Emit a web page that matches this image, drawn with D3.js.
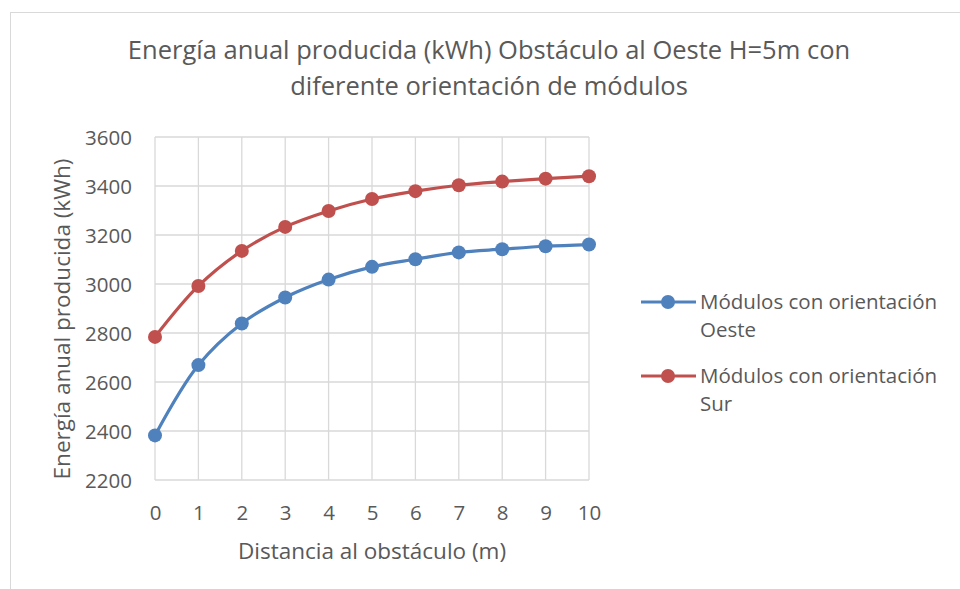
<!DOCTYPE html>
<html>
<head>
<meta charset="utf-8">
<script src="https://cdn.jsdelivr.net/npm/d3@7"></script>
<style>
  body { margin: 0; background: #fff; }
  text { font-family: "Open Sans", "Noto Sans", sans-serif; fill: #595959; }
</style>
</head>
<body>
<div id="chart"></div>
<script>
// Distance to obstacle (m)
const distances = [0, 1, 2, 3, 4, 5, 6, 7, 8, 9, 10];
// Annual energy (kWh)
const oesteValues = [2382, 2669, 2839, 2945, 3018, 3070, 3101, 3129, 3142, 3154, 3161];
const surValues = [2784, 2992, 3135, 3233, 3298, 3347, 3379, 3403, 3418, 3430, 3440];
const yTicks = [2200, 2400, 2600, 2800, 3000, 3200, 3400, 3600];
const seriesNames = ['Módulos con orientación Oeste', 'Módulos con orientación Sur'];
const seriesColors = ['#4f81bd', '#c0504d'];
const titleLines = ['Energía anual producida (kWh) Obstáculo al Oeste H=5m con', 'diferente orientación de módulos'];

const width = 960;
const height = 589;
const margin = { left: 155, right: 371, top: 137, bottom: 109 };
const fontFamily = '"Open Sans", "Noto Sans", sans-serif';

const svg = d3.select('#chart').append('svg')
  .attr('width', width)
  .attr('height', height);

// chart border
svg.append('rect')
  .attr('x', 10.5).attr('y', 12.5)
  .attr('width', 960).attr('height', 600)
  .attr('fill', 'none')
  .attr('stroke', '#d9d9d9');

const xScale = d3.scaleLinear()
  .domain([0, 10])
  .range([margin.left, width - margin.right]);
const yScale = d3.scaleLinear()
  .domain([2200, 3600])
  .range([height - margin.bottom, margin.top]);

const g = svg.append('g');

// gridlines
g.selectAll('.hgrid').data(yTicks).enter().append('line')
  .attr('x1', xScale(0)).attr('x2', xScale(10))
  .attr('y1', d => yScale(d)).attr('y2', d => yScale(d))
  .attr('stroke', '#d9d9d9').attr('stroke-width', 1.3);
g.selectAll('.vgrid').data(distances).enter().append('line')
  .attr('x1', d => xScale(d)).attr('x2', d => xScale(d))
  .attr('y1', yScale(2200)).attr('y2', yScale(3600))
  .attr('stroke', '#d9d9d9').attr('stroke-width', 1.3);

// axes
const xAxis = svg.append('g')
  .attr('transform', `translate(0, ${yScale(2200)})`)
  .call(d3.axisBottom(xScale).tickValues(distances).tickSize(0).tickPadding(30).tickFormat(d3.format('d')));
const yAxis = svg.append('g')
  .attr('transform', `translate(${xScale(0)}, 0)`)
  .call(d3.axisLeft(yScale).tickValues(yTicks).tickSize(0).tickPadding(23).tickFormat(d => d));
[xAxis, yAxis].forEach(a => {
  a.select('.domain').remove();
  a.selectAll('text').style('font-size', '20.5px').attr('fill', '#595959')
    .style('font-family', fontFamily);
});
xAxis.selectAll('text').attr('dy', '0.5em');
yAxis.selectAll('text').attr('dy', '0.36em');

// lines
const line = d3.line()
  .x((d, i) => xScale(distances[i]))
  .y(d => yScale(d))
  .curve(d3.curveCatmullRom.alpha(0.5));

[oesteValues, surValues].forEach((values, s) => {
  g.append('path')
    .datum(values)
    .attr('fill', 'none')
    .attr('stroke', seriesColors[s])
    .attr('stroke-width', 3.2)
    .attr('d', line);
  g.selectAll('.pt' + s).data(values).enter().append('circle')
    .attr('cx', (d, i) => xScale(distances[i]))
    .attr('cy', d => yScale(d))
    .attr('r', 7)
    .attr('fill', seriesColors[s]);
});

// title
svg.append('text')
  .attr('x', 489).attr('y', 59)
  .attr('text-anchor', 'middle')
  .style('font-size', '25.5px')
  .selectAll('tspan').data(titleLines).enter().append('tspan')
  .attr('x', 489)
  .attr('dy', (d, i) => i === 0 ? 0 : 36)
  .text(d => d);

// axis titles
svg.append('text')
  .attr('x', 372).attr('y', 559)
  .attr('text-anchor', 'middle')
  .style('font-size', '22.5px')
  .text('Distancia al obstáculo (m)');
svg.append('text')
  .attr('transform', 'translate(70, 319) rotate(-90)')
  .attr('text-anchor', 'middle')
  .style('font-size', '22.5px')
  .text('Energía anual producida (kWh)');

// legend
const legendY = [302, 376];
seriesNames.forEach((name, s) => {
  const lg = svg.append('g').attr('transform', `translate(641, ${legendY[s]})`);
  lg.append('line').attr('x1', 0).attr('x2', 55).attr('y1', 0).attr('y2', 0)
    .attr('stroke', seriesColors[s]).attr('stroke-width', 3.2);
  lg.append('circle').attr('cx', 27).attr('cy', 0).attr('r', 7).attr('fill', seriesColors[s]);
  const words = name.split(' ');
  const t = lg.append('text').attr('x', 59).attr('y', 7).style('font-size', '20.5px');
  t.append('tspan').attr('x', 59).text(words.slice(0, 3).join(' '));
  t.append('tspan').attr('x', 59).attr('dy', 28).text(words.slice(3).join(' '));
});
</script>
</body>
</html>
